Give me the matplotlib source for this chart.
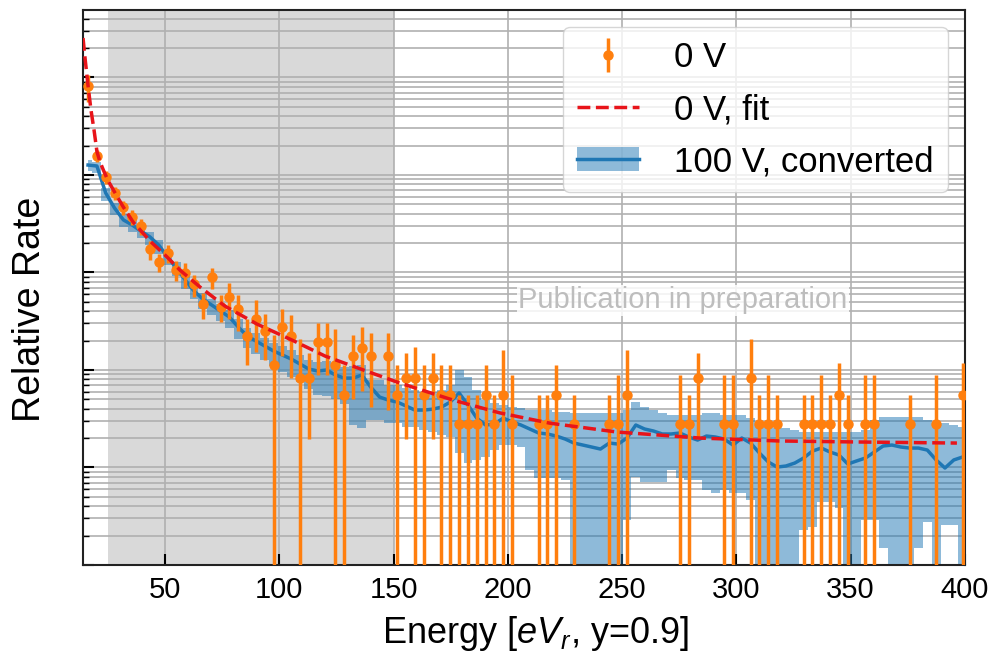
import numpy as np
import matplotlib
matplotlib.use("Agg")
import matplotlib.pyplot as plt
from matplotlib.patches import Patch
from matplotlib.ticker import LogLocator, NullFormatter

plt.rcParams["font.family"] = ["Liberation Sans", "DejaVu Sans"]
plt.rcParams["mathtext.fontset"] = "custom"
plt.rcParams["mathtext.rm"] = "Liberation Sans"
plt.rcParams["mathtext.it"] = "Liberation Sans:italic"

# bin centres in eVr (100 equal bins)
energy = np.linspace(16.3, 399.0, 100)

# 0 V data: counts per bin and their uncertainty (0 = empty bin)
counts_0v = [2930, 566, 341, 234, 168, 133, 107, 62, 46, 57,
             38, 35, 27, 17, 32, 16, 20, 15, 8, 12,
             9, 4, 10, 8, 3, 3, 7, 7, 4, 2,
             5, 6, 5, 0, 5, 2, 3, 3, 2, 3,
             2, 2, 1, 1, 1, 2, 1, 2, 1, 0,
             0, 1, 1, 2, 0, 1, 0, 0, 0, 1,
             1, 2, 0, 0, 0, 0, 0, 1, 1, 3,
             0, 0, 1, 1, 0, 3, 1, 1, 1, 0,
             0, 1, 1, 1, 1, 2, 1, 0, 1, 1,
             0, 0, 0, 1, 0, 0, 1, 0, 0, 2]
sigma_0v = [900, 80, 50, 35, 28, 24, 20, 14, 10, 12,
            9, 10, 7, 5, 8, 5, 8, 6, 4, 6.5,
            4.5, 4.2, 5, 5, 4.5, 2.3, 3.8, 3.8, 5.5, 2.0,
            3.2, 3.8, 3.5, 0, 3.6, 2.0, 2.3, 3.2, 2.0, 2.3,
            2.0, 2.0, 1.0, 1.0, 1.0, 2.0, 1.0, 3.7, 2.2, 0,
            0, 1.0, 1.0, 2.0, 0, 1.0, 0, 0, 0, 1.0,
            2.2, 3.7, 0, 0, 0, 0, 0, 2.2, 1.0, 2.3,
            0, 0, 2.2, 2.2, 0, 4.5, 1.0, 2.2, 1.0, 0,
            0, 1.0, 1.0, 2.2, 1.0, 2.2, 1.0, 0, 2.2, 2.2,
            0, 0, 0, 1.0, 0, 0, 2.2, 0, 0, 2.2]

# 0 V fit curve
fit_energy = [14.1, 15.0, 16.3, 17.6, 18.9, 20.2, 21.5, 22.85, 25.0, 28.1,
              31.6, 36.0, 43.4, 50.9, 56.5, 65.3, 76.2, 90.2, 105.5, 120.0,
              140.5, 152.8, 176.0, 196.5, 218.4, 247.7, 284.1, 319.0, 354.0, 396.5]
fit_counts = [9100, 5600, 2930, 1650, 1040, 620, 490, 410, 315, 235,
              170, 118, 75.4, 51.6, 37.9, 25.4, 16.2, 10.6, 7.27, 4.98,
              3.33, 2.63, 1.76, 1.30, 1.02, 0.828, 0.718, 0.670, 0.654, 0.638]

# 100 V converted spectrum and its band
conv_counts = [453, 443, 234, 164, 124, 110, 95, 83, 68.5, 51.6,
               39.8, 30.0, 23.1, 19.1, 16.6, 14.4, 12.5, 9.89, 8.0, 7.10,
               6.31, 5.61, 5.10, 4.64, 4.12, 3.66, 3.50, 3.58, 3.18, 2.96,
               2.96, 3.18, 2.39, 1.89, 1.76, 1.68, 1.53, 1.39, 1.39, 1.42,
               1.49, 1.68, 2.08, 1.57, 1.15, 0.977, 1.0, 1.15, 1.05, 0.977,
               0.889, 0.809, 0.790, 0.753, 0.702, 0.638, 0.609, 0.581, 0.554, 0.638,
               0.623, 0.718, 0.977, 0.889, 0.848, 0.790, 0.790, 0.809, 0.736, 0.685,
               0.753, 0.736, 0.702, 0.609, 0.718, 0.638, 0.504, 0.408, 0.362, 0.371,
               0.398, 0.448, 0.528, 0.567, 0.516, 0.481, 0.389, 0.418, 0.448, 0.516,
               0.595, 0.609, 0.581, 0.567, 0.567, 0.541, 0.428, 0.354, 0.428, 0.459]
conv_hi = [510, 487, 263, 185, 142.5, 124, 107, 93.1, 77.1, 58.1,
           45.9, 34.5, 26.7, 22.1, 19.1, 17.0, 14.8, 11.9, 9.66, 8.58,
           7.62, 6.77, 6.31, 5.74, 5.10, 4.53, 4.32, 4.43, 4.03, 3.84,
           3.94, 4.03, 2.83, 2.83, 2.51, 2.51, 2.34, 2.23, 2.13, 2.13,
           2.23, 2.51, 3.58, 3.03, 2.23, 1.76, 1.64, 1.57, 1.49, 1.46,
           1.39, 1.39, 1.39, 1.33, 1.33, 1.30, 1.30, 1.30, 1.30, 1.30,
           1.30, 1.39, 1.68, 1.49, 1.39, 1.30, 1.24, 1.24, 1.24, 1.24,
           1.30, 1.30, 1.24, 1.24, 1.24, 1.15, 0.977, 0.932, 0.910, 0.910,
           0.868, 0.828, 0.828, 0.828, 0.828, 0.828, 0.828, 0.828, 0.868, 1.10,
           1.18, 1.18, 1.18, 1.18, 1.18, 1.10, 1.02, 1.02, 0.977, 0.932]
conv_lo = [390, 375, 195, 140, 105, 93, 80, 69, 56, 43,
           33, 24.5, 19.0, 15.2, 13.0, 11.3, 9.6, 7.5, 6.0, 5.2,
           4.5, 3.9, 3.45, 3.05, 2.7, 2.3, 2.0, 1.95, 1.8, 1.6,
           0.977, 0.910, 1.10, 1.10, 1.02, 1.02, 0.932, 0.932, 0.868, 0.828,
           0.771, 0.736, 0.504, 0.398, 0.428, 0.459, 0.541, 0.609, 0.609, 0.581,
           0.337, 0.279, 0.279, 0.279, 0.267, 0.001, 0.001, 0.001, 0.001, 0.001,
           0.001, 0.104, 0.286, 0.254, 0.254, 0.254, 0.337, 0.279, 0.267, 0.267,
           0.210, 0.196, 0.210, 0.196, 0.196, 0.166, 0.001, 0.001, 0.001, 0.001,
           0.001, 0.0818, 0.0879, 0.158, 0.158, 0.138, 0.001, 0.001, 0.104, 0.104,
           0.0535, 0.001, 0.001, 0.001, 0.0535, 0.0989, 0.001, 0.0921, 0.0921, 0.001]

norm = 2.79e-4  # counts -> relative rate

counts_0v = np.array(counts_0v, dtype=float)
sigma_0v = np.array(sigma_0v)
has = counts_0v > 0

fig = plt.figure(figsize=(9.92, 6.53), dpi=100)
ax = fig.add_axes([0.0837, 0.1348, 0.889, 0.8499])

ax.axvspan(25, 150, color="#d9d9d9", lw=0, zorder=0)

ax.fill_between(energy, np.array(conv_lo) * norm, np.array(conv_hi) * norm,
                step="mid", color="#1f77b4", alpha=0.5, lw=0, zorder=2)
conv_line, = ax.plot(energy, np.array(conv_counts) * norm, color="#1f77b4", lw=2.5, zorder=3)
eb = ax.errorbar(energy[has], counts_0v[has] * norm, yerr=sigma_0v[has] * norm,
                 fmt="o", color="#ff7f0e", ms=6.5, elinewidth=2.5, capsize=0, zorder=4)
fit_line, = ax.plot(fit_energy, np.array(fit_counts) * norm, "--", color="#e8141a",
                    lw=2.5, zorder=5)

ax.set_yscale("log")
ax.set_xlim(14.1, 400)
ax.set_ylim(1e-5, 4.92)
ax.yaxis.set_major_locator(LogLocator(base=10, numticks=20))
ax.yaxis.set_minor_locator(LogLocator(base=10, subs=np.arange(2, 10), numticks=50))
ax.yaxis.set_major_formatter(NullFormatter())
ax.yaxis.set_minor_formatter(NullFormatter())
ax.set_xticks([50, 100, 150, 200, 250, 300, 350, 400])

ax.grid(True, which="major", color="#b0b0b0", lw=1.2)
ax.grid(True, which="minor", axis="y", color="#b0b0b0", lw=1.2)
ax.tick_params(axis="both", which="both", direction="in", labelsize=21)
ax.tick_params(axis="x", pad=8)
ax.tick_params(which="major", length=8, width=1.5)
ax.tick_params(which="minor", length=4, width=1)
for s in ax.spines.values():
    s.set_linewidth(1.5)
    s.set_color("#222222")

ax.set_xlabel("Energy [$eV_r$, y=0.9]", fontsize=26)
ax.set_ylabel("Relative Rate", fontsize=27)
ax.xaxis.set_label_coords(0.513, -0.088)
ax.yaxis.set_label_coords(-0.04, 0.46)

ax.text(0.68, 0.477, "Publication in preparation", transform=ax.transAxes,
        ha="center", va="center", fontsize=21, color="#bdbdbd", zorder=6,
        bbox=dict(facecolor="white", edgecolor="none", alpha=0.85, pad=1))

ax.legend([eb, fit_line, (Patch(color="#1f77b4", alpha=0.5, lw=0), conv_line)],
          ["0 V", "0 V, fit", "100 V, converted"],
          loc="upper right", fontsize=25, handlelength=1.8, handletextpad=1.0,
          labelspacing=0.55, borderaxespad=0.5, framealpha=0.8,
          edgecolor="#cccccc", fancybox=True)

fig.savefig("out.png", dpi=100)
